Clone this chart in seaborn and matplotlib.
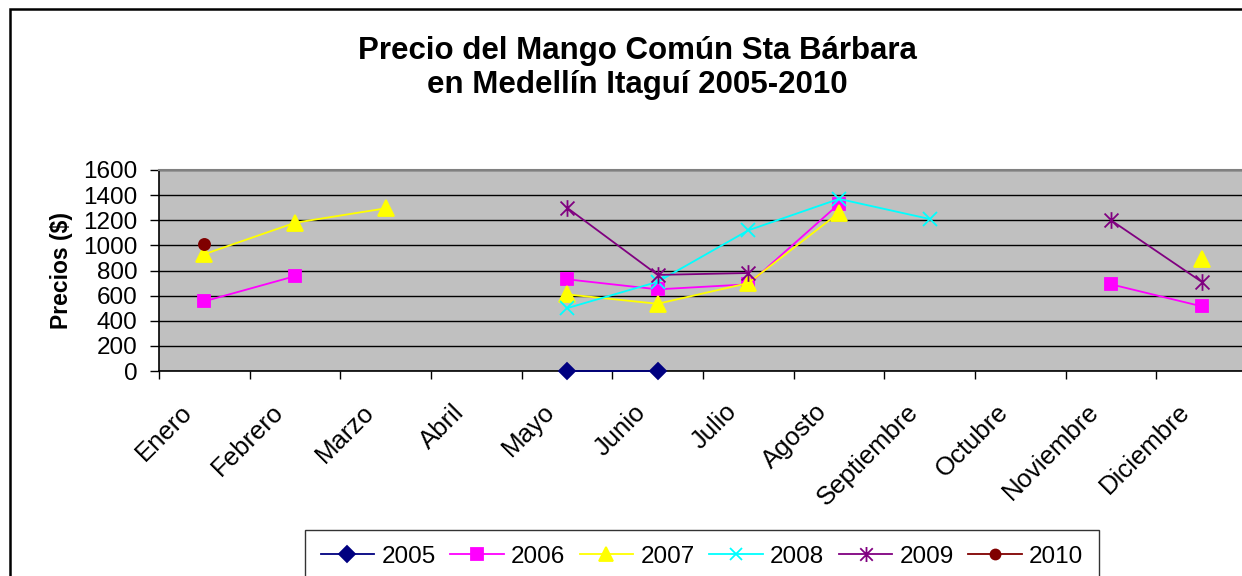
import numpy as np
import pandas as pd
import matplotlib
matplotlib.use("Agg")
import matplotlib.pyplot as plt
import matplotlib.transforms as mtrans
from matplotlib.lines import Line2D
from matplotlib.patches import Rectangle
from matplotlib.path import Path
import seaborn as sns

nan = np.nan

meses = ["Enero", "Febrero", "Marzo", "Abril", "Mayo", "Junio", "Julio",
         "Agosto", "Septiembre", "Octubre", "Noviembre", "Diciembre"]
anios = ["2005", "2006", "2007", "2008", "2009", "2010"]

# precios por mes (nan = sin dato)
p2005 = [nan, nan, nan, nan, 0, 0, nan, nan, nan, nan, nan, nan]
p2006 = [555, 755, nan, nan, 730, 650, 690, 1330, nan, nan, 690, 515]
p2007 = [930, 1180, 1295, nan, 610, 535, 700, 1260, nan, nan, nan, 890]
p2008 = [nan, nan, nan, nan, 500, 710, 1120, 1370, 1210, nan, nan, nan]
p2009 = [nan, nan, nan, nan, 1300, 765, 780, nan, nan, nan, 1200, 710]
p2010 = [1010, nan, nan, nan, nan, nan, nan, nan, nan, nan, nan, nan]

series = dict(zip(anios, [p2005, p2006, p2007, p2008, p2009, p2010]))

# asterisco estilo Excel: X + linea vertical
asterisco = Path([(-1, -1), (1, 1), (-1, 1), (1, -1), (0, -1.2), (0, 1.2)],
                 [Path.MOVETO, Path.LINETO] * 3)

estilos = {
    "2005": dict(color="#000080", marker="D", ms=8.5),
    "2006": dict(color="#FF00FF", marker="s", ms=9),
    "2007": dict(color="#FFFF00", marker="^", ms=11),
    "2008": dict(color="#00FFFF", marker="x", ms=10),
    "2009": dict(color="#800080", marker=asterisco, ms=12),
    "2010": dict(color="#800000", marker="o", ms=8),
}


def tramos(valores):
    """id de tramo continuo para cada valor (corta la linea en los huecos)"""
    ids, n, prev = [], 0, False
    for v in valores:
        ok = not np.isnan(v)
        if ok and not prev:
            n += 1
        ids.append(n)
        prev = ok
    return ids


filas = []
for anio, vals in series.items():
    for i, (v, t) in enumerate(zip(vals, tramos(vals))):
        if not np.isnan(v):
            filas.append({"mes": i, "precio": v, "anio": anio, "tramo": f"{anio}-{t}"})
df = pd.DataFrame(filas)

plt.rcParams["font.family"] = ["Liberation Sans", "DejaVu Sans"]

fig = plt.figure(figsize=(12.42, 5.76), dpi=100)
ax = fig.add_axes([159 / 1242, 1 - 371 / 576, 1088 / 1242, 201 / 576])

for anio in anios:
    st = estilos[anio]
    sns.lineplot(data=df[df["anio"] == anio], x="mes", y="precio", units="tramo",
                 estimator=None, sort=False, color=st["color"], marker=st["marker"],
                 markersize=st["ms"], markeredgecolor=st["color"],
                 markerfacecolor=st["color"], markeredgewidth=1.3,
                 linewidth=1.3, legend=False, ax=ax, clip_on=False, zorder=3)

ax.set_facecolor("#C0C0C0")
ax.set_xlim(-0.5, 11.5)
ax.set_ylim(0, 1600)
ax.set_yticks(range(0, 1601, 200))
ax.yaxis.grid(True, color="black", linewidth=1)
ax.xaxis.grid(False)
ax.set_axisbelow(True)

ax.set_xticks(np.arange(-0.5, 12, 1))
ax.set_xticklabels([])
ax.set_xticks(range(12), minor=True)
ax.set_xticklabels(meses, minor=True, rotation=45, ha="right", va="top",
                   rotation_mode="anchor", fontsize=18.5)
ax.tick_params(axis="x", which="major", length=6, width=1, color="black")
ax.tick_params(axis="x", which="minor", length=0, pad=12)
ax.tick_params(axis="y", length=6.5, width=1, color="black", pad=9, labelsize=17.5)

# mover las etiquetas del mes como en Excel (un poco a la izquierda y abajo)
desplazar = mtrans.ScaledTranslation(-24 / 100, -12 / 100, fig.dpi_scale_trans)
for lab in ax.get_xticklabels(minor=True):
    lab.set_transform(lab.get_transform() + desplazar)

ax.set_xlabel("")
ax.set_ylabel("Precios ($)", fontsize=16.5, fontweight="bold", labelpad=7)

for s in ["left", "bottom"]:
    ax.spines[s].set_color("black")
    ax.spines[s].set_linewidth(1.2)
ax.spines["top"].set_color("#808080")
ax.spines["top"].set_linewidth(1.5)
ax.spines["right"].set_visible(False)

fig.text(637 / 1242, 1 - 68 / 576, "Precio del Mango Común Sta Bárbara\nen Medellín Itaguí 2005-2010",
         ha="center", va="center", fontsize=22.5, fontweight="bold", linespacing=1.2)

handles = [Line2D([], [], color=estilos[a]["color"], marker=estilos[a]["marker"],
                  markersize=estilos[a]["ms"] * 0.9, markeredgecolor=estilos[a]["color"],
                  markerfacecolor=estilos[a]["color"], linewidth=1.3, markeredgewidth=1.3)
           for a in anios]
leg = fig.legend(handles, anios, loc="upper center", ncol=6,
                 bbox_to_anchor=(702 / 1242, 1 - 530 / 576), fontsize=17.5,
                 frameon=True, fancybox=False, edgecolor="black", handlelength=2.2,
                 handletextpad=0.3, columnspacing=0.6, borderpad=0.65, borderaxespad=0)
leg.get_frame().set_linewidth(1)

fig.patches.append(Rectangle((10 / 1242, -0.1), 1.5, 1.1 - 9 / 576, transform=fig.transFigure,
                             fill=False, edgecolor="black", linewidth=1.8))

fig.savefig("out.png", dpi=100, facecolor="white")
